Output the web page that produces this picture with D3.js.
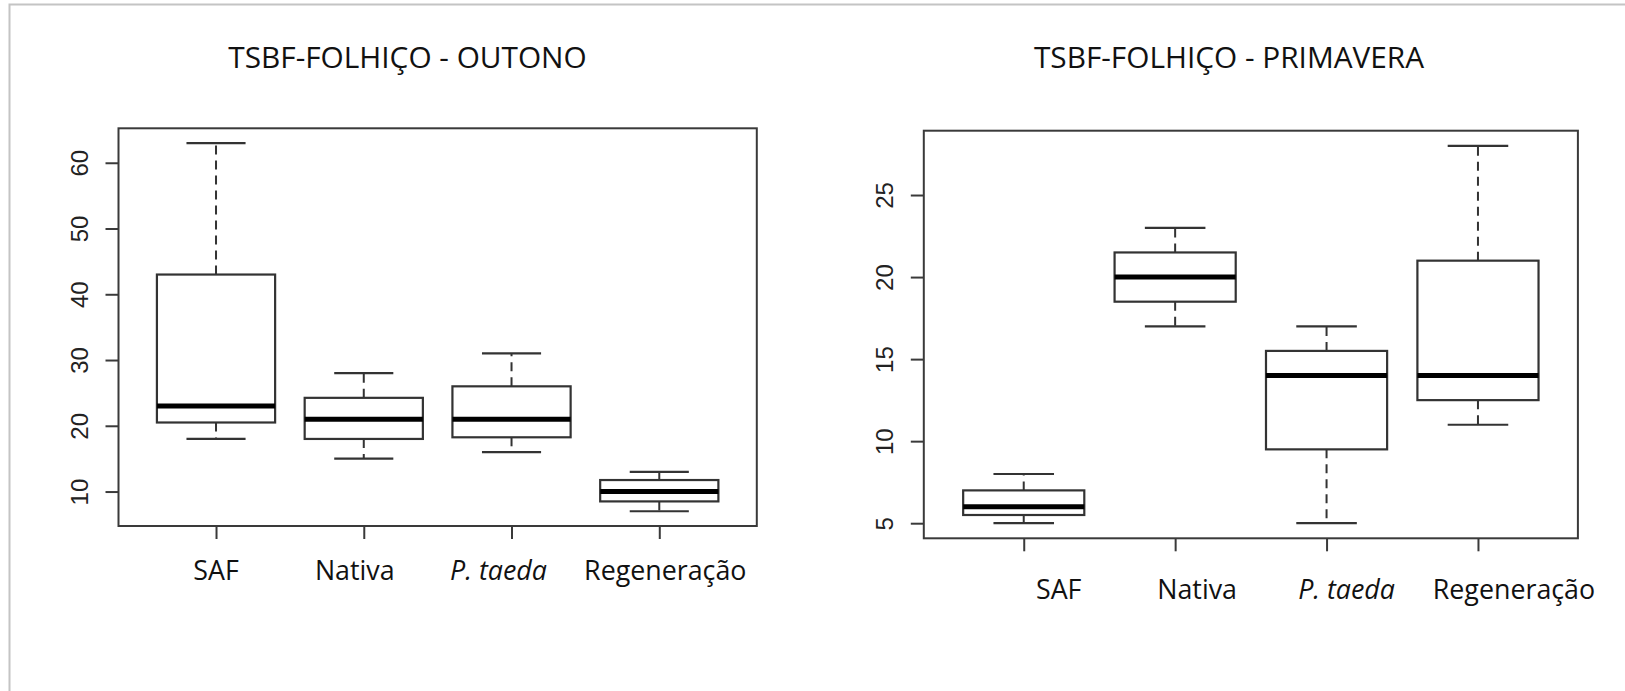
<!DOCTYPE html>
<html>
<head>
<meta charset="utf-8">
<script src="https://cdn.jsdelivr.net/npm/d3@7"></script>
<style>
  html, body { margin: 0; padding: 0; background: #fff; }
  svg { display: block; }
  .title, .cat { font-family: "Open Sans", Lato, sans-serif; fill: #111; }
  .tick text { font-family: "Liberation Sans", Arial, sans-serif; fill: #222; }
</style>
</head>
<body>
<svg id="fig" width="1625" height="691"></svg>
<script>
// Categories shared by both panels
const categories = ["SAF", "Nativa", "P. taeda", "Regeneração"];
const italicCats = ["P. taeda"];

// Five-number summaries per category: [lower whisker, Q1, median, Q3, upper whisker]
const outonoStats = [
  [18, 20.5, 23, 43, 63],
  [15, 18, 21, 24.25, 28],
  [16, 18.25, 21, 26, 31],
  [7, 8.5, 10, 11.75, 13]
];
const primaveraStats = [
  [5, 5.5, 6, 7, 8],
  [17, 18.5, 20, 21.5, 23],
  [5, 9.5, 14, 15.5, 17],
  [11, 12.5, 14, 21, 28]
];

const outonoTicks = [10, 20, 30, 40, 50, 60];
const primaveraTicks = [5, 10, 15, 20, 25];

const titles = ["TSBF-FOLHIÇO - OUTONO", "TSBF-FOLHIÇO - PRIMAVERA"];

// Panel layout (plot frame in page pixels, title and category label placement)
const panels = [
  {
    title: titles[0], stats: outonoStats, ticks: outonoTicks,
    frame: { x0: 118.5, x1: 756.8, y0: 128.3, y1: 526 },
    titleX: 407.5, titleY: 67.5,
    labelY: 580, labelShift: [0, -9, -13, 6]
  },
  {
    title: titles[1], stats: primaveraStats, ticks: primaveraTicks,
    frame: { x0: 923.8, x1: 1577.9, y0: 130.7, y1: 538.3 },
    titleX: 1229, titleY: 67.5,
    labelY: 598.5, labelShift: [35, 22, 20, 36]
  }
];

const svg = d3.select("#fig");

// Size the title font so the first title spans about 359px
const probe = svg.append("text").attr("class", "title").style("font-size", "100px").text(titles[0]);
const titleSize = Math.round(100 * 359 / probe.node().getComputedTextLength() * 10) / 10;
probe.remove();
const labelSize = Math.round(titleSize * 0.9 * 10) / 10;

// Light page border (top and left edges)
svg.append("path")
  .attr("d", "M9.5,691 L9.5,4.5 L1625,4.5")
  .attr("fill", "none")
  .attr("stroke", "#c4c4c4")
  .attr("stroke-width", 2);

panels.forEach(p => {
  const f = p.frame;
  const n = categories.length;
  // boxplot-style extended ranges (4% padding each side)
  const xPad = n * 0.04;
  const x = d3.scaleLinear()
    .domain([0.5 - xPad, n + 0.5 + xPad])
    .range([f.x0, f.x1]);

  const lo = d3.min(p.stats, d => d[0]);
  const hi = d3.max(p.stats, d => d[4]);
  const yPad = (hi - lo) * 0.04;
  const y = d3.scaleLinear()
    .domain([lo - yPad, hi + yPad])
    .range([f.y1, f.y0]);

  const g = svg.append("g");

  // Title
  g.append("text")
    .attr("class", "title")
    .attr("x", p.titleX)
    .attr("y", p.titleY)
    .attr("text-anchor", "middle")
    .style("font-size", titleSize + "px")
    .text(p.title);

  // Y axis (ticks with rotated labels)
  const yAxis = g.append("g")
    .attr("transform", `translate(${f.x0},0)`)
    .call(d3.axisLeft(y).tickValues(p.ticks).tickSize(13).tickFormat(d3.format("d")));
  yAxis.select(".domain").remove();
  yAxis.selectAll(".tick line").attr("stroke", "#3a3a3a").attr("stroke-width", 2);
  yAxis.selectAll(".tick text")
    .attr("transform", "rotate(-90)")
    .attr("x", 0)
    .attr("y", -31)
    .attr("dy", 0)
    .attr("text-anchor", "middle")
    .style("font-size", "24px");

  // X axis ticks (no library labels)
  const xAxis = g.append("g")
    .attr("transform", `translate(0,${f.y1})`)
    .call(d3.axisBottom(x).tickValues(d3.range(1, n + 1)).tickSize(13).tickFormat(""));
  xAxis.select(".domain").remove();
  xAxis.selectAll(".tick line").attr("stroke", "#3a3a3a").attr("stroke-width", 2);

  // Category labels
  g.selectAll("text.cat")
    .data(categories)
    .join("text")
    .attr("class", "cat")
    .attr("x", (d, i) => x(i + 1) + p.labelShift[i])
    .attr("y", p.labelY)
    .attr("text-anchor", "middle")
    .style("font-size", labelSize + "px")
    .style("font-style", d => italicCats.includes(d) ? "italic" : "normal")
    .text(d => d);

  // Boxes
  const boxW = 0.8;
  const capW = 0.4;
  const boxes = g.selectAll("g.box")
    .data(p.stats)
    .join("g")
    .attr("class", "box");

  // dashed whiskers
  boxes.append("line")
    .attr("x1", (d, i) => x(i + 1)).attr("x2", (d, i) => x(i + 1))
    .attr("y1", d => y(d[3])).attr("y2", d => y(d[4]))
    .attr("stroke", "#333").attr("stroke-width", 2).attr("stroke-dasharray", "9,6");
  boxes.append("line")
    .attr("x1", (d, i) => x(i + 1)).attr("x2", (d, i) => x(i + 1))
    .attr("y1", d => y(d[1])).attr("y2", d => y(d[0]))
    .attr("stroke", "#333").attr("stroke-width", 2).attr("stroke-dasharray", "9,6");

  // whisker caps
  [0, 4].forEach(k => {
    boxes.append("line")
      .attr("x1", (d, i) => x(i + 1 - capW / 2)).attr("x2", (d, i) => x(i + 1 + capW / 2))
      .attr("y1", d => y(d[k])).attr("y2", d => y(d[k]))
      .attr("stroke", "#333").attr("stroke-width", 2.2);
  });

  // IQR rectangle
  boxes.append("rect")
    .attr("x", (d, i) => x(i + 1 - boxW / 2))
    .attr("width", (d, i) => x(i + 1 + boxW / 2) - x(i + 1 - boxW / 2))
    .attr("y", d => y(d[3]))
    .attr("height", d => y(d[1]) - y(d[3]))
    .attr("fill", "#fff")
    .attr("stroke", "#333").attr("stroke-width", 2.2);

  // median
  boxes.append("line")
    .attr("x1", (d, i) => x(i + 1 - boxW / 2)).attr("x2", (d, i) => x(i + 1 + boxW / 2))
    .attr("y1", d => y(d[2])).attr("y2", d => y(d[2]))
    .attr("stroke", "#000").attr("stroke-width", 5);

  // Plot frame
  g.append("rect")
    .attr("x", f.x0).attr("y", f.y0)
    .attr("width", f.x1 - f.x0).attr("height", f.y1 - f.y0)
    .attr("fill", "none")
    .attr("stroke", "#3a3a3a").attr("stroke-width", 2);
});
</script>
</body>
</html>
